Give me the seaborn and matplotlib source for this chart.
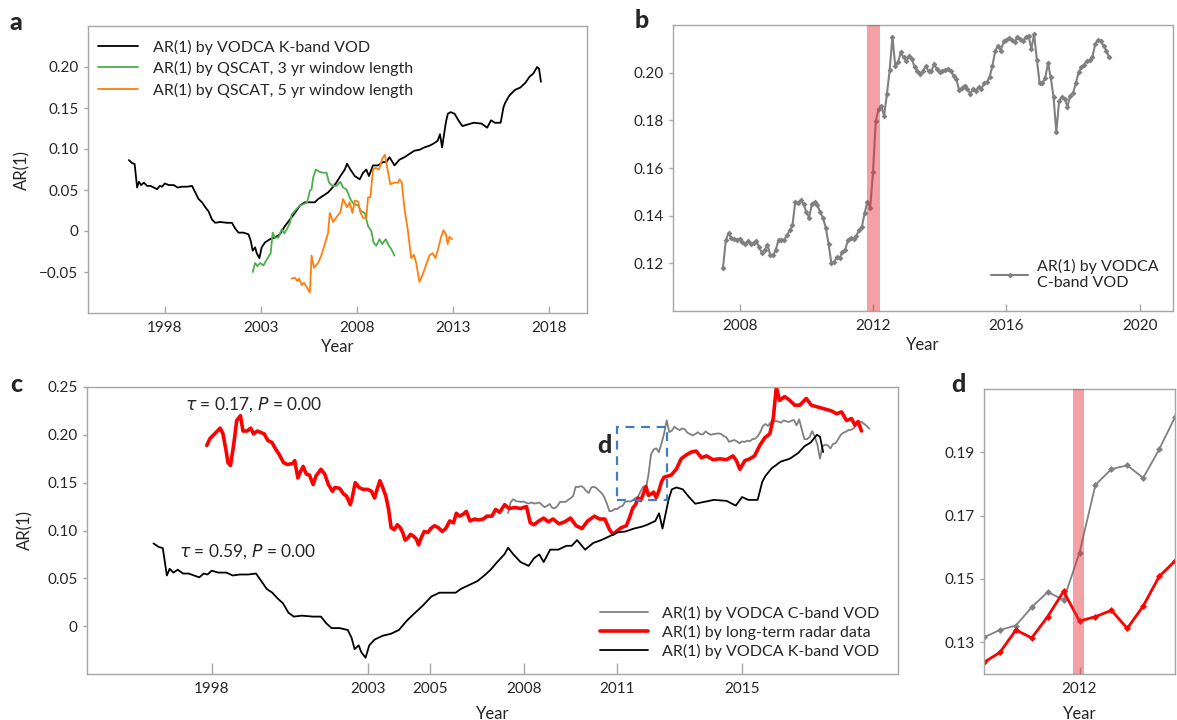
import numpy as np
import matplotlib
matplotlib.use('Agg')
import matplotlib.pyplot as plt
import seaborn as sns
from matplotlib.patches import Rectangle

sns.set_style('white')
plt.rcParams['font.family'] = ['Lato', 'DejaVu Sans']
plt.rcParams['axes.unicode_minus'] = True

# ---- data ----
# AR(1) by VODCA K-band VOD (panels a and c)
kband_year = [1996.13, 1996.30, 1996.43, 1996.56, 1996.65, 1996.77, 1996.91, 1997.08, 1997.26, 1997.43,
              1997.60, 1997.74, 1997.86, 1998.00, 1998.21, 1998.47, 1998.67, 1998.90, 1999.16, 1999.42,
              1999.59, 1999.76, 1999.94, 2000.11, 2000.28, 2000.46, 2000.63, 2000.89, 2001.24, 2001.50,
              2001.67, 2001.84, 2002.10, 2002.36, 2002.48, 2002.58, 2002.71, 2002.79, 2002.93, 2003.05,
              2003.22, 2003.48, 2003.74, 2004.00, 2004.26, 2004.52, 2004.78, 2005.04, 2005.30, 2005.56,
              2005.82, 2005.99, 2006.25, 2006.51, 2006.74, 2006.94, 2007.15, 2007.38, 2007.50, 2007.67,
              2007.90, 2008.16, 2008.33, 2008.50, 2008.64, 2008.85, 2009.11, 2009.37, 2009.54, 2009.71,
              2009.97, 2010.23, 2010.49, 2010.75, 2011.01, 2011.27, 2011.53, 2011.79, 2011.96, 2012.22,
              2012.34, 2012.45, 2012.65, 2012.75, 2012.90, 2013.10, 2013.30, 2013.50, 2013.80, 2014.10,
              2014.50, 2014.80, 2015.00, 2015.20, 2015.50, 2015.65, 2015.75, 2015.95, 2016.24, 2016.53,
              2016.80, 2017.00, 2017.20, 2017.40, 2017.50, 2017.60]
kband_val = [0.0865, 0.0828, 0.0816, 0.053, 0.060, 0.056, 0.059, 0.055, 0.055, 0.053,
             0.051, 0.055, 0.054, 0.058, 0.056, 0.056, 0.053, 0.054, 0.054, 0.055,
             0.047, 0.039, 0.035, 0.029, 0.024, 0.014, 0.010, 0.011, 0.010, 0.010,
             0.003, -0.002, -0.002, -0.004, -0.012, -0.024, -0.020, -0.027, -0.033, -0.020,
             -0.014, -0.010, -0.008, -0.004, 0.006, 0.014, 0.022, 0.031, 0.035, 0.035,
             0.035, 0.039, 0.043, 0.047, 0.053, 0.059, 0.067, 0.075, 0.082, 0.075,
             0.067, 0.063, 0.071, 0.075, 0.067, 0.080, 0.080, 0.084, 0.084, 0.090,
             0.080, 0.087, 0.090, 0.094, 0.098, 0.099, 0.102, 0.104, 0.106, 0.110,
             0.118, 0.102, 0.133, 0.143, 0.145, 0.143, 0.135, 0.128, 0.130, 0.132,
             0.131, 0.126, 0.135, 0.132, 0.132, 0.151, 0.157, 0.165, 0.172, 0.175,
             0.181, 0.188, 0.192, 0.200, 0.198, 0.182]

# AR(1) by QSCAT, 3 yr window
qs3_year = [2002.58, 2002.71, 2002.83, 2002.97, 2003.14, 2003.31, 2003.52, 2003.62, 2003.74, 2003.92,
            2004.09, 2004.23, 2004.38, 2004.52, 2004.61, 2004.87, 2005.04, 2005.25, 2005.42, 2005.56,
            2005.65, 2005.73, 2005.87, 2006.08, 2006.29, 2006.43, 2006.56, 2006.74, 2006.94, 2007.15,
            2007.29, 2007.46, 2007.67, 2007.84, 2008.07, 2008.24, 2008.42, 2008.59, 2008.76, 2008.88,
            2009.02, 2009.19, 2009.33, 2009.51, 2009.68, 2009.80, 2009.97]
qs3_val = [-0.050, -0.039, -0.043, -0.039, -0.042, -0.035, -0.027, -0.002, -0.008, -0.008,
           0.002, -0.003, 0.003, 0.010, 0.020, 0.027, 0.031, 0.033, 0.035, 0.049,
           0.051, 0.065, 0.075, 0.072, 0.071, 0.071, 0.059, 0.055, 0.055, 0.060,
           0.053, 0.051, 0.039, 0.033, 0.031, 0.024, 0.022, 0.006, 0.000, -0.014,
           -0.018, -0.010, -0.016, -0.010, -0.018, -0.022, -0.030]

# AR(1) by QSCAT, 5 yr window
qs5_year = [2004.61, 2004.78, 2004.90, 2005.00, 2005.13, 2005.25, 2005.39, 2005.56, 2005.65, 2005.77,
            2005.99, 2006.17, 2006.34, 2006.51, 2006.60, 2006.77, 2006.98, 2007.15, 2007.29, 2007.50,
            2007.64, 2007.78, 2007.90, 2008.07, 2008.19, 2008.33, 2008.50, 2008.59, 2008.71, 2008.85,
            2008.99, 2009.16, 2009.33, 2009.47, 2009.57, 2009.75, 2009.97, 2010.15, 2010.23, 2010.35,
            2010.49, 2010.66, 2010.84, 2010.98, 2011.10, 2011.27, 2011.44, 2011.65, 2011.79, 2011.96,
            2012.10, 2012.22, 2012.39, 2012.52, 2012.65, 2012.74, 2012.83, 2012.97]
qs5_val = [-0.058, -0.057, -0.061, -0.058, -0.066, -0.063, -0.068, -0.075, -0.030, -0.045,
           -0.039, -0.029, -0.016, -0.002, 0.022, 0.011, 0.018, 0.023, 0.039, 0.029,
           0.035, 0.022, 0.037, 0.036, 0.023, 0.016, 0.016, 0.041, 0.041, 0.075,
           0.077, 0.075, 0.088, 0.093, 0.080, 0.057, 0.059, 0.059, 0.063, 0.059,
           0.027, 0.002, -0.033, -0.029, -0.039, -0.062, -0.053, -0.039, -0.030, -0.027,
           -0.033, -0.024, -0.008, 0.001, -0.004, -0.016, -0.007, -0.010]

# AR(1) by VODCA C-band VOD, monthly from mid 2007 (panels b, c, d)
cband_start = 2007.5
cband_val = [0.1182, 0.1296, 0.1327, 0.1307, 0.1303, 0.1299, 0.1303, 0.1289, 0.1282, 0.1293,
             0.1282, 0.1285, 0.1293, 0.1268, 0.1244, 0.1257, 0.1278, 0.1236, 0.1233, 0.1257,
             0.1299, 0.1299, 0.1299, 0.1317, 0.1338, 0.1359, 0.1457, 0.1454, 0.1464, 0.1450,
             0.1415, 0.1391, 0.1450, 0.1457, 0.1443, 0.1415, 0.1391, 0.1349, 0.1282, 0.1201,
             0.1205, 0.1226, 0.1224, 0.1247, 0.1257, 0.1299, 0.1306, 0.1303,
             0.1316, 0.1339, 0.1353, 0.1411, 0.1459, 0.1434, 0.1583, 0.1797, 0.1847, 0.1859,
             0.1819, 0.1909, 0.2011,
             0.2151, 0.2029, 0.2043, 0.2085, 0.2064, 0.2050, 0.2068, 0.2057, 0.2022, 0.2008,
             0.1994, 0.2008, 0.2027, 0.2006, 0.2006, 0.2036, 0.2015, 0.2001, 0.2008, 0.2011,
             0.2015, 0.2008, 0.1987, 0.1973, 0.1927, 0.1936, 0.1946, 0.1932, 0.1911, 0.1932,
             0.1925, 0.1939, 0.1932, 0.1955, 0.1959, 0.1983, 0.2029, 0.2092, 0.2113, 0.2092,
             0.2131, 0.2137, 0.2145, 0.2137, 0.2127, 0.2151, 0.2141, 0.2134, 0.2148, 0.2155,
             0.2099, 0.2162, 0.2053, 0.1955, 0.1955, 0.1978, 0.2039, 0.1980, 0.1897, 0.1750,
             0.1883, 0.1897, 0.1890, 0.1858, 0.1904, 0.1913, 0.1955, 0.2001, 0.2022, 0.2034,
             0.2050, 0.2053, 0.2067, 0.2120, 0.2137, 0.2134, 0.2113, 0.2092, 0.2064]
cband_year = cband_start + np.arange(len(cband_val)) / 12

# AR(1) by long-term radar data (panels c, d)
radar_year = [1997.84, 1997.94,
              1998.09, 1998.27, 1998.36, 1998.45, 1998.52, 1998.60, 1998.70, 1998.80, 1998.92,
              1999.00, 1999.13, 1999.25, 1999.34, 1999.46, 1999.68, 1999.80, 1999.93,
              2000.05, 2000.17, 2000.30, 2000.42, 2000.60, 2000.66, 2000.76, 2000.85, 2000.93,
              2001.03, 2001.13, 2001.25, 2001.34, 2001.50, 2001.62, 2001.74, 2001.87, 2001.95,
              2002.10, 2002.23, 2002.32, 2002.44, 2002.50, 2002.60, 2002.72, 2002.85,
              2003.00, 2003.12, 2003.22, 2003.30, 2003.39, 2003.48, 2003.58, 2003.67, 2003.75, 2003.85, 2003.95,
              2004.04, 2004.12, 2004.20, 2004.28, 2004.37, 2004.47, 2004.56, 2004.63, 2004.71, 2004.81, 2004.93,
              2005.02, 2005.14, 2005.26, 2005.39, 2005.50, 2005.63, 2005.75, 2005.84, 2005.94,
              2006.06, 2006.16, 2006.28, 2006.43, 2006.55, 2006.70, 2006.82, 2006.98,
              2007.10, 2007.23, 2007.39, 2007.53, 2007.72, 2007.90,
              2008.09, 2008.21, 2008.33, 2008.49, 2008.64, 2008.79, 2008.94,
              2009.13, 2009.31, 2009.50, 2009.68, 2009.87,
              2010.05, 2010.27, 2010.43, 2010.60, 2010.75, 2010.86, 2010.97,
              2011.13, 2011.29, 2011.40,
              2011.500, 2011.583, 2011.667, 2011.750, 2011.833, 2011.917, 2012.000,
              2012.083, 2012.167, 2012.250, 2012.333, 2012.417, 2012.500,
              2012.73, 2012.89,
              2013.05, 2013.21, 2013.37, 2013.53, 2013.70, 2013.86,
              2014.07, 2014.28, 2014.50, 2014.71, 2014.82, 2014.93,
              2015.09, 2015.25, 2015.40, 2015.57, 2015.73, 2015.89,
              2016.00, 2016.10, 2016.20, 2016.37, 2016.53, 2016.69, 2016.85,
              2017.06, 2017.22, 2017.44, 2017.65, 2017.87,
              2018.03, 2018.19, 2018.35, 2018.51, 2018.62, 2018.72, 2018.83]
radar_val = [0.189, 0.196,
             0.201, 0.207, 0.201, 0.185, 0.171, 0.168, 0.189, 0.215, 0.220,
             0.204, 0.204, 0.207, 0.201, 0.204, 0.201, 0.194, 0.192,
             0.185, 0.179, 0.171, 0.169, 0.170, 0.173, 0.155, 0.162, 0.167,
             0.159, 0.158, 0.148, 0.157, 0.164, 0.159, 0.148, 0.141, 0.145,
             0.144, 0.138, 0.136, 0.127, 0.134, 0.150, 0.145, 0.143,
             0.143, 0.141, 0.134, 0.143, 0.152, 0.145, 0.136, 0.122, 0.103, 0.101, 0.106,
             0.103, 0.098, 0.090, 0.092, 0.096, 0.094, 0.091, 0.085, 0.092, 0.099, 0.098,
             0.102, 0.105, 0.103, 0.099, 0.102, 0.110, 0.108, 0.118, 0.115,
             0.117, 0.120, 0.110, 0.112, 0.111, 0.112, 0.115, 0.115,
             0.122, 0.119, 0.127, 0.123, 0.124, 0.123,
             0.125, 0.108, 0.106, 0.110, 0.113, 0.109, 0.112,
             0.107, 0.109, 0.113, 0.105, 0.102,
             0.110, 0.115, 0.112, 0.112, 0.101, 0.096, 0.099,
             0.103, 0.105, 0.114,
             0.1237, 0.1268, 0.1339, 0.1314, 0.1381, 0.1461, 0.1367,
             0.1381, 0.1401, 0.1344, 0.1414, 0.1508, 0.1557,
             0.158, 0.164,
             0.175, 0.179, 0.182, 0.183, 0.176, 0.178,
             0.174, 0.175, 0.174, 0.178, 0.173, 0.164,
             0.173, 0.175, 0.178, 0.189, 0.197, 0.201,
             0.217, 0.250, 0.236, 0.240, 0.236, 0.231, 0.231,
             0.238, 0.231, 0.229, 0.227, 0.225,
             0.222, 0.224, 0.215, 0.217, 0.210, 0.214, 0.204]

a_xticks = [1998, 2003, 2008, 2013, 2018]
a_yticks = [-0.05, 0, 0.05, 0.10, 0.15, 0.20]
a_ylabels = ['\u22120.05', '0', '0.05', '0.10', '0.15', '0.20']
b_xticks = [2008, 2012, 2016, 2020]
b_yticks = [0.12, 0.14, 0.16, 0.18, 0.20]
c_xticks = [1998, 2003, 2005, 2008, 2011, 2015]
c_yticks = [0, 0.05, 0.10, 0.15, 0.20, 0.25]
c_ylabels = ['0', '0.05', '0.10', '0.15', '0.20', '0.25']
d_xticks = [2012]
d_yticks = [0.13, 0.15, 0.17, 0.19]

GRAY = '#808080'
SPINE = '#a6a6a6'
SPAN = '#e8303a'
FS = 11.5

W, H = 1177, 720
fig = plt.figure(figsize=(W / 100, H / 100), dpi=100)


def box(l, r, t, b):
    return [l / W, 1 - b / H, (r - l) / W, (b - t) / H]


def style(ax, xlen=5):
    for s in ax.spines.values():
        s.set_visible(True)
        s.set_color(SPINE)
        s.set_linewidth(1.0)
    ax.tick_params(axis='x', direction='in', length=xlen, width=1, color=SPINE,
                   labelsize=11, pad=6, bottom=True)
    ax.tick_params(axis='y', direction='out', length=3, width=1, color=SPINE,
                   labelsize=11, pad=4, left=True)
    ax.set_xlabel('Year', fontsize=12, labelpad=3)


# ---- panel a ----
ax_a = fig.add_axes(box(88, 587, 26, 313))
sns.lineplot(x=kband_year, y=kband_val, ax=ax_a, color='black', lw=1.3,
             label='AR(1) by VODCA K-band VOD', estimator=None)
sns.lineplot(x=qs3_year, y=qs3_val, ax=ax_a, color='#4cae4c', lw=1.3,
             label='AR(1) by QSCAT, 3 yr window length', estimator=None)
sns.lineplot(x=qs5_year, y=qs5_val, ax=ax_a, color='#ff7f0e', lw=1.3,
             label='AR(1) by QSCAT, 5 yr window length', estimator=None)
ax_a.set_xlim(1994, 2020)
ax_a.set_ylim(-0.10, 0.25)
ax_a.set_xticks(a_xticks)
ax_a.set_yticks(a_yticks, a_ylabels)
style(ax_a)
ax_a.set_ylabel('AR(1)', fontsize=12, labelpad=6)
ax_a.legend(loc='upper left', bbox_to_anchor=(0.008, 0.975), borderaxespad=0, frameon=False,
            fontsize=FS, handlelength=2.5, labelspacing=0.4, handletextpad=0.9)

# ---- panel b ----
ax_b = fig.add_axes(box(673, 1173, 25, 311))
sns.lineplot(x=cband_year, y=cband_val, ax=ax_b, color=GRAY, lw=1.5, marker='D', markersize=3,
             markeredgewidth=0, label='AR(1) by VODCA\nC-band VOD', estimator=None)
ax_b.axvspan(2011.82, 2012.2, color=SPAN, alpha=0.45, lw=0, zorder=3)
ax_b.set_xlim(2006, 2021)
ax_b.set_ylim(0.10, 0.22)
ax_b.set_xticks(b_xticks)
ax_b.set_yticks(b_yticks)
style(ax_b)
ax_b.set_ylabel('')
ax_b.legend(loc='lower right', bbox_to_anchor=(0.985, 0.05), borderaxespad=0, frameon=False,
            fontsize=FS, handlelength=2.3, handletextpad=0.6)

# ---- panel c ----
ax_c = fig.add_axes(box(87, 898, 387, 674))
sns.lineplot(x=cband_year, y=cband_val, ax=ax_c, color=GRAY, lw=1.3,
             label='AR(1) by VODCA C-band VOD', estimator=None)
sns.lineplot(x=radar_year, y=radar_val, ax=ax_c, color='#ff0000', lw=2.6,
             label='AR(1) by long-term radar data', estimator=None)
sns.lineplot(x=kband_year, y=kband_val, ax=ax_c, color='black', lw=1.3,
             label='AR(1) by VODCA K-band VOD', estimator=None)
ax_c.set_xlim(1994, 2020)
ax_c.set_ylim(-0.05, 0.25)
ax_c.set_xticks(c_xticks)
ax_c.set_yticks(c_yticks, c_ylabels)
style(ax_c, xlen=8)
ax_c.set_xlabel('Year', fontsize=12, labelpad=7)
ax_c.set_ylabel('AR(1)', fontsize=12, labelpad=10)
ax_c.text(1997.14, 0.232, r'$\tau$ = 0.17, $P$ = 0.00', fontsize=12.5, va='center')
ax_c.text(1996.95, 0.0775, r'$\tau$ = 0.59, $P$ = 0.00', fontsize=12.5, va='center')
ax_c.add_patch(Rectangle((2011.0, 0.1317), 1.59, 0.0763, fill=False, ec='#3d7fc1',
                         lw=1.6, ls=(0, (4, 3)), zorder=4))
ax_c.text(2010.35, 0.189, 'd', fontsize=18, fontweight='black', va='center')
ax_c.legend(loc='lower right', bbox_to_anchor=(0.985, 0.03), borderaxespad=0, frameon=False,
            fontsize=FS, handlelength=3.0, labelspacing=0.25, handletextpad=0.9)

# ---- panel d ----
ax_d = fig.add_axes(box(984, 1175, 389, 674))
sns.lineplot(x=cband_year, y=cband_val, ax=ax_d, color=GRAY, lw=1.3, marker='D', markersize=3.5,
             markeredgewidth=0, estimator=None)
sns.lineplot(x=radar_year, y=radar_val, ax=ax_d, color='#ff0000', lw=2.0, marker='D', markersize=3.5,
             markeredgewidth=0, estimator=None)
ax_d.axvspan(2011.965, 2012.021, color=SPAN, alpha=0.45, lw=0, zorder=3)
ax_d.set_xlim(2011.5, 2012.5)
ax_d.set_ylim(0.12, 0.21)
ax_d.set_xticks(d_xticks)
ax_d.set_yticks(d_yticks)
style(ax_d)
ax_d.set_xlabel('Year', fontsize=12, labelpad=7)
ax_d.set_ylabel('')

# panel letters
for x, y, s in [(10, 22, 'a'), (635, 20, 'b'), (10, 384, 'c'), (951, 384, 'd')]:
    fig.text(x / W, 1 - y / H, s, fontsize=18, fontweight='black', va='center', ha='left')

fig.savefig('out.png', dpi=100)
